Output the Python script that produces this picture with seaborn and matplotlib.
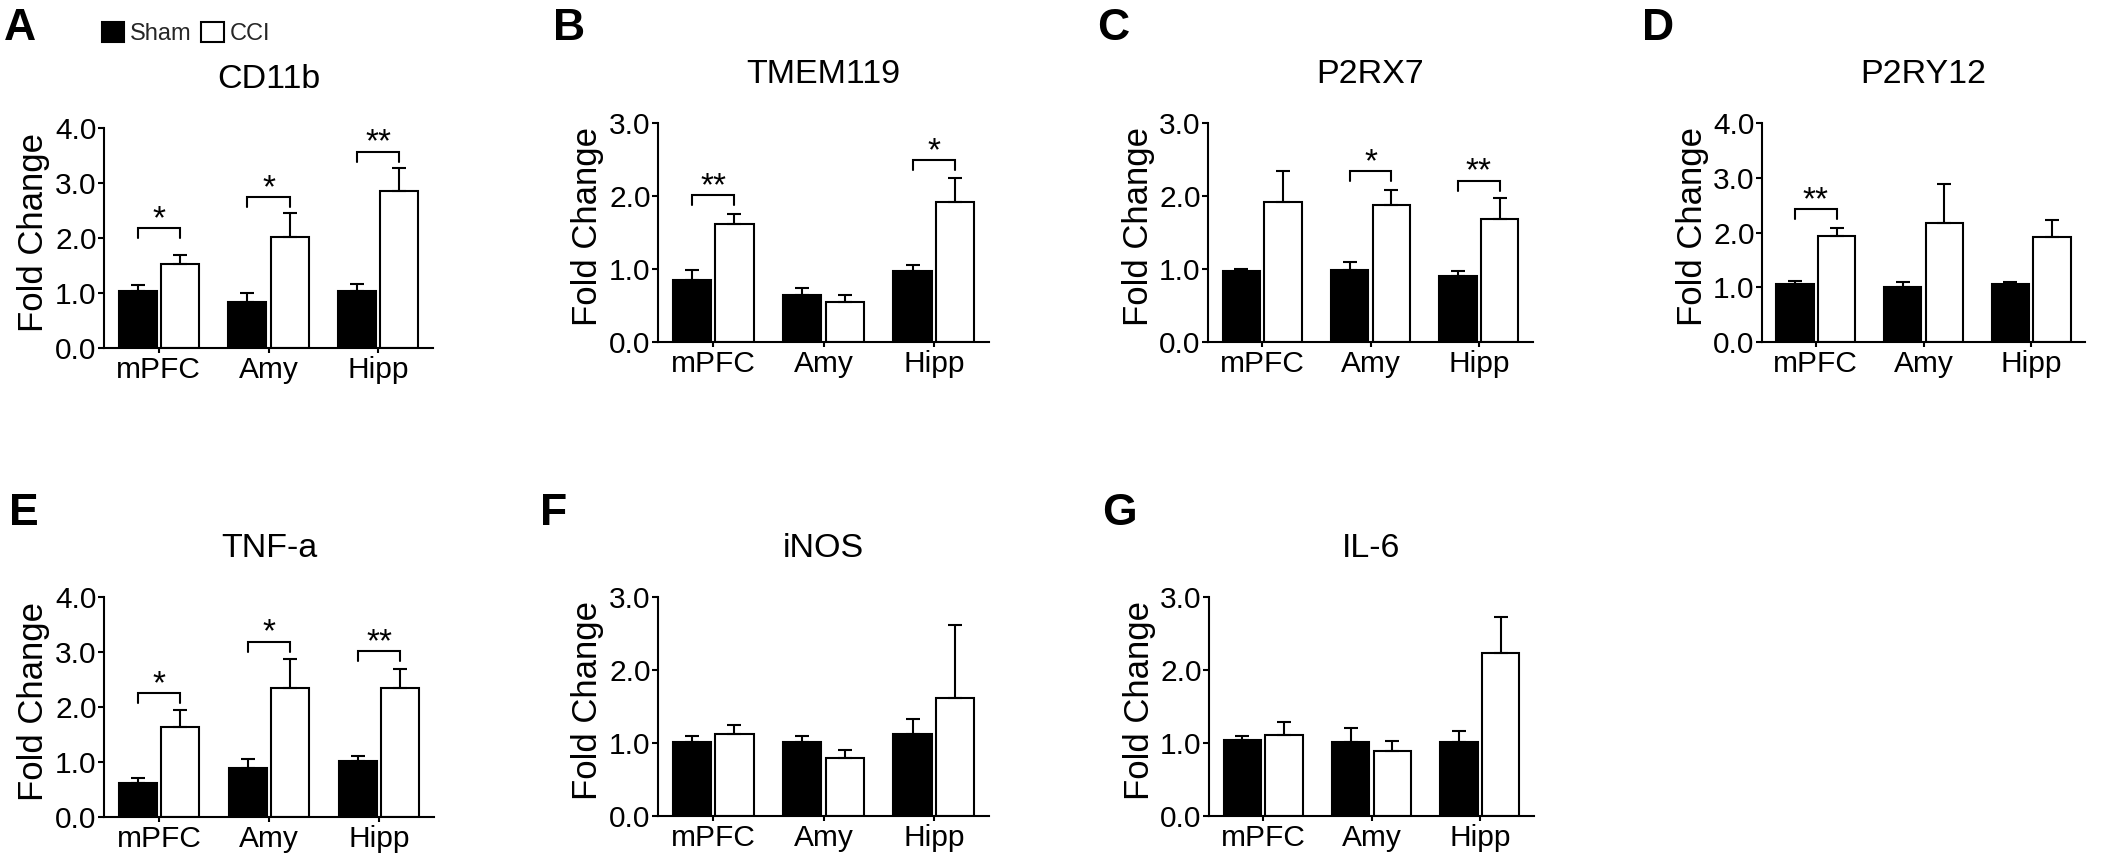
import numpy as np
import pandas as pd
import matplotlib
matplotlib.use("Agg")
import matplotlib.pyplot as plt
from matplotlib.patches import Patch
from matplotlib.ticker import FormatStrFormatter
import seaborn as sns

# ---------------- data ----------------
regions = ["mPFC", "Amy", "Hipp"]
groups = ["Sham", "CCI"]
markers = ["CD11b", "TMEM119", "P2RX7", "P2RY12", "TNF-a", "iNOS", "IL-6"]
panel_letters = ["A", "B", "C", "D", "E", "F", "G"]
y_max = [4.0, 3.0, 3.0, 4.0, 4.0, 3.0, 3.0]

# mean fold change per region (mPFC, Amy, Hipp)
sham_mean = {
    "CD11b":   [1.03, 0.84, 1.03],
    "TMEM119": [0.85, 0.64, 0.97],
    "P2RX7":   [0.97, 0.99, 0.91],
    "P2RY12":  [1.06, 1.00, 1.06],
    "TNF-a":   [0.62, 0.90, 1.02],
    "iNOS":    [1.01, 1.01, 1.12],
    "IL-6":    [1.04, 1.02, 1.01],
}
sham_sem = {
    "CD11b":   [0.11, 0.16, 0.13],
    "TMEM119": [0.14, 0.10, 0.08],
    "P2RX7":   [0.03, 0.10, 0.06],
    "P2RY12":  [0.06, 0.09, 0.04],
    "TNF-a":   [0.09, 0.15, 0.09],
    "iNOS":    [0.09, 0.09, 0.21],
    "IL-6":    [0.05, 0.19, 0.15],
}
cci_mean = {
    "CD11b":   [1.52, 2.02, 2.86],
    "TMEM119": [1.61, 0.55, 1.92],
    "P2RX7":   [1.92, 1.88, 1.68],
    "P2RY12":  [1.94, 2.17, 1.91],
    "TNF-a":   [1.64, 2.34, 2.35],
    "iNOS":    [1.12, 0.80, 1.62],
    "IL-6":    [1.11, 0.89, 2.23],
}
cci_sem = {
    "CD11b":   [0.18, 0.44, 0.42],
    "TMEM119": [0.15, 0.09, 0.33],
    "P2RX7":   [0.42, 0.20, 0.29],
    "P2RY12":  [0.14, 0.71, 0.32],
    "TNF-a":   [0.31, 0.53, 0.34],
    "iNOS":    [0.12, 0.11, 0.99],
    "IL-6":    [0.18, 0.14, 0.49],
}
# significance: (region index, bracket height, label)
significance = {
    "CD11b":   [(0, 2.18, "*"), (1, 2.74, "*"), (2, 3.57, "**")],
    "TMEM119": [(0, 2.01, "**"), (2, 2.49, "*")],
    "P2RX7":   [(1, 2.34, "*"), (2, 2.21, "**")],
    "P2RY12":  [(0, 2.43, "**")],
    "TNF-a":   [(0, 2.25, "*"), (1, 3.19, "*"), (2, 3.02, "**")],
    "iNOS":    [],
    "IL-6":    [],
}

# ---------------- style ----------------
sns.set_theme(style="ticks")
plt.rcParams["font.family"] = ["Liberation Sans", "DejaVu Sans"]

W, H = 2104, 858
fig = plt.figure(figsize=(W / 100, H / 100), dpi=100)

# axes boxes in pixels: left, right, top, bottom
boxes = [
    (104, 433, 128, 348),
    (658, 989, 123, 342),
    (1208, 1533, 123, 342),
    (1762, 2085, 123, 342),
    (104, 434, 597, 817),
    (658, 989, 597, 816),
    (1209, 1534, 597, 816),
]
letter_pos = [(4, 40), (553, 40), (1097, 40), (1642, 40), (9, 525), (540, 525), (1102, 525)]

colors = {"Sham": "black", "CCI": "white"}
LW = 1.5

for i, m in enumerate(markers):
    l, r, t, b = boxes[i]
    ax = fig.add_axes([l / W, 1 - b / H, (r - l) / W, (b - t) / H])
    df = pd.DataFrame({
        "region": regions * 2,
        "group": ["Sham"] * 3 + ["CCI"] * 3,
        "value": sham_mean[m] + cci_mean[m],
    })
    sns.barplot(data=df, x="region", y="value", hue="group", order=regions,
                hue_order=groups, palette=colors, saturation=1,
                edgecolor="black", linewidth=LW, width=0.77, gap=0.1,
                errorbar=None, legend=False, ax=ax)

    centers = {}
    for p in ax.patches:
        xc = p.get_x() + p.get_width() / 2
        ri = int(round(xc))
        g = "Sham" if xc < ri else "CCI"
        centers[(ri, g)] = xc
    for g, means, sems in (("Sham", sham_mean[m], sham_sem[m]), ("CCI", cci_mean[m], cci_sem[m])):
        xs = [centers[(ri, g)] for ri in range(3)]
        ax.errorbar(xs, means, yerr=[np.zeros(3), sems], fmt="none",
                    ecolor="black", elinewidth=LW, capsize=5, capthick=LW, zorder=3)

    ym = y_max[i]
    drop = 10 * ym / (b - t)
    for ri, h, lab in significance[m]:
        x0, x1 = centers[(ri, "Sham")], centers[(ri, "CCI")]
        ax.plot([x0, x0, x1, x1], [h - drop, h, h, h - drop], color="black", lw=LW,
                solid_joinstyle="miter", zorder=3)
        ax.text((x0 + x1) / 2, h, lab, ha="center", va="baseline", fontsize=24,
                color="black")

    ax.set_xlim(-0.5, 2.5)
    ax.set_ylim(0, ym)
    ax.set_yticks(np.arange(0, ym + 0.01, 1.0))
    ax.yaxis.set_major_formatter(FormatStrFormatter("%.1f"))
    ax.set_xlabel("")
    ax.set_ylabel("Fold Change", fontsize=25, color="black")
    ax.yaxis.set_label_coords(-0.164, 0.527)
    ax.set_title(m, fontsize=24.5, pad=29, color="black")
    ax.tick_params(axis="y", labelsize=21.5, length=4.3, width=LW, pad=1, colors="black")
    ax.tick_params(axis="x", labelsize=21.5, length=3.6, width=LW, pad=2, colors="black")
    for s in ("left", "bottom"):
        ax.spines[s].set_linewidth(LW)
        ax.spines[s].set_color("black")
    sns.despine(ax=ax)
    ax.set_facecolor("white")

    lx, ly = letter_pos[i]
    fig.text(lx / W, 1 - ly / H, panel_letters[i], fontsize=32, fontweight="bold",
             ha="left", va="baseline", color="black")

handles = [Patch(facecolor="black", edgecolor="black", linewidth=LW),
           Patch(facecolor="white", edgecolor="black", linewidth=LW)]
fig.legend(handles, groups, loc="upper left", bbox_to_anchor=(102 / W, 1 - 22 / H),
           ncol=2, frameon=False, fontsize=17, handlelength=0.95, handleheight=0.95,
           handletextpad=0.25, columnspacing=0.4, borderpad=0, borderaxespad=0)

fig.savefig("out.png", dpi=100, facecolor="white")
